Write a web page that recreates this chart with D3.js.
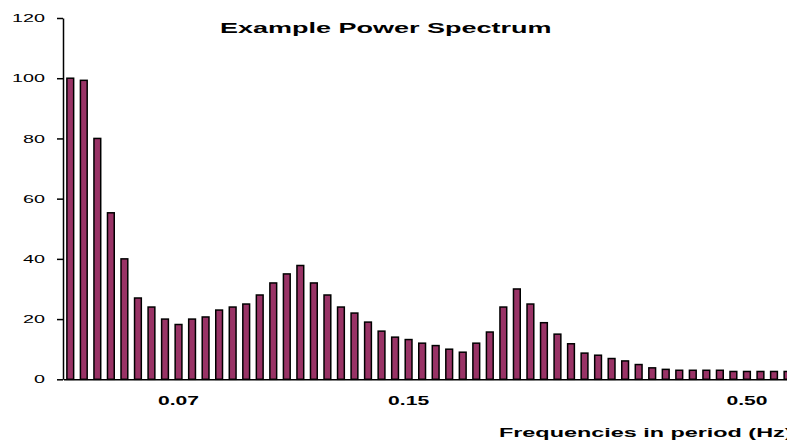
<!DOCTYPE html>
<html lang="en">
<head>
<meta charset="UTF-8">
<script src="https://d3js.org/d3.v7.min.js"></script>
<title>Example Power Spectrum</title>
<style>
    body { margin: 0; background: white; }
    svg { display: block; font-family: "Liberation Sans", Arial, sans-serif; }
</style>
</head>
<body>
<script>
    // power in each frequency bin
    var power = [100, 99.3, 80, 55.3, 40, 27, 24, 20, 18.2, 20,
                 20.7, 23, 24, 25, 28, 32, 35, 37.8, 32, 28,
                 24, 22, 19, 16, 14, 13.2, 12, 11.2, 10, 9,
                 12, 15.7, 24, 30, 25, 18.8, 15, 11.8, 8.7, 8,
                 6.9, 6.1, 4.9, 3.8, 3.3, 3, 3, 3, 3, 2.6,
                 2.6, 2.6, 2.6, 2.6];
    var bins = power.map(function (d, i) { return i + 1; });

    var yTicks = [0, 20, 40, 60, 80, 100, 120];
    var tickBins = [9, 26, 51];
    var tickLabels = ["0.07", "0.15", "0.50"];

    var title = "Example Power Spectrum";
    var xTitle = "Frequencies in period (Hz)";

    var width = 787, height = 441;

    var svg = d3.select("body").append("svg")
        .attr("width", width)
        .attr("height", height);

    var x = d3.scaleBand()
        .domain(bins)
        .range([63.5, 794.3])
        .paddingInner(0.5)
        .paddingOuter(0.25);

    var y = d3.scaleLinear()
        .domain([0, 120])
        .range([379.3, 18]);

    // bars
    svg.append("g").selectAll("rect")
        .data(power)
        .enter()
        .append("rect")
            .attr("x", function (d, i) { return x(bins[i]); })
            .attr("width", x.bandwidth())
            .attr("y", function (d) { return y(d); })
            .attr("height", function (d) { return y(0) - y(d); })
            .attr("fill", "#993366")
            .attr("stroke", "black")
            .attr("stroke-width", 1.5);

    // y axis, labels stretched sideways like the original
    var ySx = 1.72;
    var yAxis = svg.append("g")
        .attr("transform", "translate(63,0)")
        .call(d3.axisLeft(y).tickValues(yTicks).tickSize(6).tickPadding(12).tickSizeOuter(0));
    yAxis.select(".domain").attr("stroke-width", 1.5);
    yAxis.selectAll(".tick line").attr("stroke-width", 1.5);
    yAxis.selectAll(".tick text")
        .attr("font-size", "11.5px")
        .attr("font-family", "Liberation Sans, Arial, sans-serif")
        .attr("fill", "black")
        .attr("x", -18 / ySx)
        .attr("transform", "scale(" + ySx + ",1)");

    // x axis line only
    var xAxis = svg.append("g")
        .attr("transform", "translate(0," + y(0) + ")")
        .call(d3.axisBottom(x).tickValues([]).tickSizeOuter(0));
    xAxis.select(".domain").attr("stroke-width", 1.5);

    // x tick labels
    var xSx = 1.62;
    svg.append("g").selectAll("text")
        .data(tickBins)
        .enter()
        .append("text")
            .attr("transform", function (d) {
                return "translate(" + (x(d) + x.bandwidth() / 2) + ",405) scale(" + xSx + ",1)";
            })
            .attr("text-anchor", "middle")
            .attr("font-size", "13px")
            .attr("font-weight", "bold")
            .text(function (d, i) { return tickLabels[i]; });

    // titles
    svg.append("text")
        .attr("transform", "translate(220,33) scale(1.8,1)")
        .attr("font-size", "15px")
        .attr("font-weight", "bold")
        .text(title);

    svg.append("text")
        .attr("transform", "translate(499,437) scale(1.8,1)")
        .attr("font-size", "13px")
        .attr("font-weight", "bold")
        .text(xTitle);
</script>
</body>
</html>
